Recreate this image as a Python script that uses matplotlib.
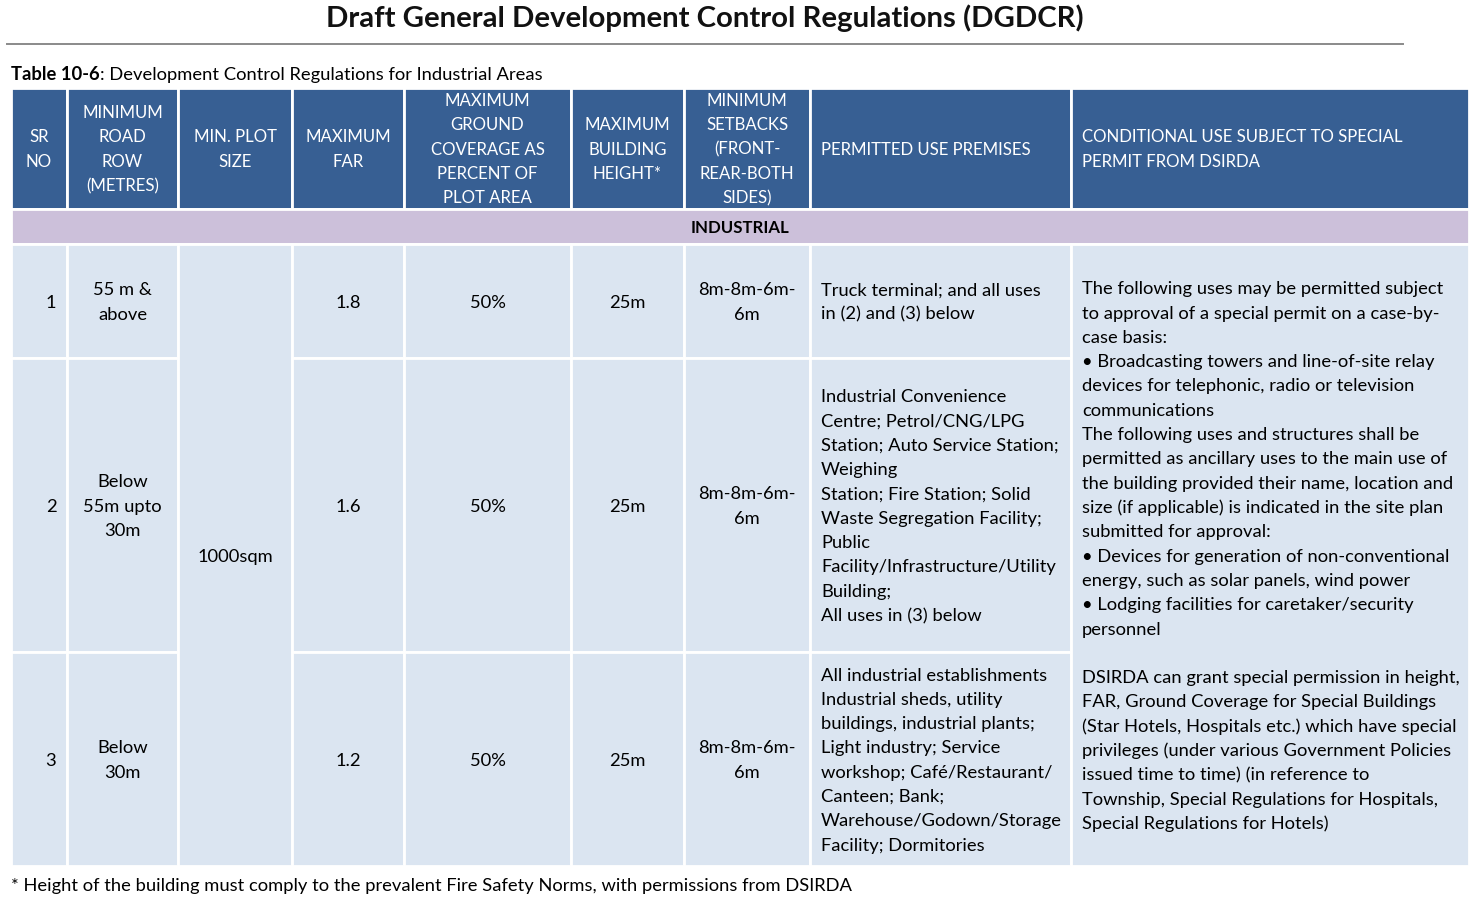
"""
Table 10-6 of the DGDCR, redrawn as a matplotlib figure
"""
import matplotlib
matplotlib.use('Agg')
from matplotlib import pyplot as plt
from matplotlib.patches import Rectangle

plt.rcParams['font.family'] = ['Lato', 'DejaVu Sans']

TITLE = 'Draft General Development Control Regulations (DGDCR)'
CAPTION_BOLD = 'Table 10-6'
CAPTION_REST = ': Development Control Regulations for Industrial Areas'
FOOTNOTE = ('* Height of the building must comply to the prevalent Fire Safety Norms, '
            'with permissions from DSIRDA')
SECTION = 'INDUSTRIAL'

headers = [
    ['SR', 'NO'],
    ['MINIMUM', 'ROAD', 'ROW', '(METRES)'],
    ['MIN. PLOT', 'SIZE'],
    ['MAXIMUM', 'FAR'],
    ['MAXIMUM', 'GROUND', 'COVERAGE AS', 'PERCENT OF', 'PLOT AREA'],
    ['MAXIMUM', 'BUILDING', 'HEIGHT*'],
    ['MINIMUM', 'SETBACKS', '(FRONT-', 'REAR-BOTH', 'SIDES)'],
    ['PERMITTED USE PREMISES'],
    ['CONDITIONAL USE SUBJECT TO SPECIAL', 'PERMIT FROM DSIRDA'],
]

sr_no = [['1'], ['2'], ['3']]
road_row = [['55 m &', 'above'], ['Below', '55m upto', '30m'], ['Below', '30m']]
min_plot = [['1000sqm']]
max_far = [['1.8'], ['1.6'], ['1.2']]
ground_cov = [['50%'], ['50%'], ['50%']]
bldg_height = [['25m'], ['25m'], ['25m']]
setbacks = [['8m-8m-6m-', '6m'], ['8m-8m-6m-', '6m'], ['8m-8m-6m-', '6m']]
permitted = [
    ['Truck terminal; and all uses', 'in (2) and (3) below'],
    ['Industrial Convenience', 'Centre; Petrol/CNG/LPG', 'Station; Auto Service Station;',
     'Weighing', 'Station; Fire Station; Solid', 'Waste Segregation Facility;', 'Public',
     'Facility/Infrastructure/Utility', 'Building;', 'All uses in (3) below'],
    ['All industrial establishments', 'Industrial sheds, utility', 'buildings, industrial plants;',
     'Light industry; Service', 'workshop; Café/Restaurant/', 'Canteen; Bank;',
     'Warehouse/Godown/Storage', 'Facility; Dormitories'],
]
conditional = [[
    'The following uses may be permitted subject',
    'to approval of a special permit on a case-by-',
    'case basis:',
    '\u2022 Broadcasting towers and line-of-site relay',
    'devices for telephonic, radio or television',
    'communications',
    'The following uses and structures shall be',
    'permitted as ancillary uses to the main use of',
    'the building provided their name, location and',
    'size (if applicable) is indicated in the site plan',
    'submitted for approval:',
    '\u2022 Devices for generation of non-conventional',
    'energy, such as solar panels, wind power',
    '\u2022 Lodging facilities for caretaker/security',
    'personnel',
    '',
    'DSIRDA can grant special permission in height,',
    'FAR, Ground Coverage for Special Buildings',
    '(Star Hotels, Hospitals etc.) which have special',
    'privileges (under various Government Policies',
    'issued time to time) (in reference to',
    'Township, Special Regulations for Hospitals,',
    'Special Regulations for Hotels)',
]]

# columns: (cell texts, merged over all rows, alignment)
columns = [
    (sr_no, False, 'sr'),
    (road_row, False, 'center'),
    (min_plot, True, 'center'),
    (max_far, False, 'center'),
    (ground_cov, False, 'center'),
    (bldg_height, False, 'center'),
    (setbacks, False, 'center'),
    (permitted, False, 'left'),
    (conditional, True, 'left'),
]

W, H, DPI = 1473, 902, 100
col_edges = [11, 67, 178, 292, 404, 571, 684, 810, 1071, 1469]
head_top, head_bot = 88, 209
sect_top, sect_bot = 209, 244
row_edges = [244, 358, 652, 866]

HEAD_BLUE = '#375f93'
SECT_LILAC = '#ccc0da'
BODY_BLUE = '#dbe5f1'
LINE_H = 24.3
FS = 13.2          # body font size (pt)
FS_HEAD = 12.1
FS_NOTE = 13.25
PAD = 11


def draw_lines(ax, lines, x, cy, ha, color='black', weight='normal', fs=FS):
    n = len(lines)
    base_off = 0.36 * fs * DPI / 72
    for i, line in enumerate(lines):
        y = cy + (i - (n - 1) / 2) * LINE_H
        ax.text(x, y + base_off, line, ha=ha, va='baseline', color=color,
                fontsize=fs, fontweight=weight)


def main():
    fig = plt.figure(figsize=(W / DPI, H / DPI), dpi=DPI)
    ax = fig.add_axes([0, 0, 1, 1])
    ax.set_xlim(0, W)
    ax.set_ylim(H, 0)
    ax.axis('off')

    # title + rule
    ax.text(705, 18, TITLE, ha='center', va='center', fontsize=21.2, fontweight='bold',
            color='#111111')
    ax.plot([7, 1403], [44, 44], color='#8a8a8a', lw=1.4)

    # caption
    cap = ax.text(11, 75, CAPTION_BOLD, ha='left', va='center', fontsize=FS_NOTE,
                  fontweight='bold')
    fig.canvas.draw()
    bb = cap.get_window_extent()
    ax.text(bb.x1, 75, CAPTION_REST, ha='left', va='center', fontsize=FS_NOTE)

    grid = dict(edgecolor='white', lw=2)

    # header
    for j, lines in enumerate(headers):
        x0, x1 = col_edges[j], col_edges[j + 1]
        ax.add_patch(Rectangle((x0, head_top), x1 - x0, head_bot - head_top,
                               facecolor=HEAD_BLUE, **grid))
        cy = (head_top + head_bot) / 2
        if j >= 7:
            draw_lines(ax, lines, x0 + PAD, cy, 'left', color='white', fs=FS_HEAD)
        else:
            draw_lines(ax, lines, (x0 + x1) / 2, cy, 'center', color='white', fs=FS_HEAD)

    # section row
    ax.add_patch(Rectangle((col_edges[0], sect_top), col_edges[-1] - col_edges[0],
                           sect_bot - sect_top, facecolor=SECT_LILAC, **grid))
    draw_lines(ax, [SECTION], (col_edges[0] + col_edges[-1]) / 2,
               (sect_top + sect_bot) / 2, 'center', weight='bold', fs=FS_HEAD)

    # body
    for j, (cells, merged, align) in enumerate(columns):
        x0, x1 = col_edges[j], col_edges[j + 1]
        spans = [(row_edges[0], row_edges[-1])] if merged else \
            list(zip(row_edges[:-1], row_edges[1:]))
        for (y0, y1), lines in zip(spans, cells):
            ax.add_patch(Rectangle((x0, y0), x1 - x0, y1 - y0, facecolor=BODY_BLUE, **grid))
            cy = (y0 + y1) / 2
            if align == 'left':
                draw_lines(ax, lines, x0 + PAD, cy, 'left')
            elif align == 'sr':
                draw_lines(ax, lines, x1 - 16, cy, 'center')
            else:
                draw_lines(ax, lines, (x0 + x1) / 2, cy, 'center')

    ax.text(11, 886, FOOTNOTE, ha='left', va='center', fontsize=FS_NOTE)

    fig.savefig('out.png', dpi=DPI)


if __name__ == '__main__':
    main()
